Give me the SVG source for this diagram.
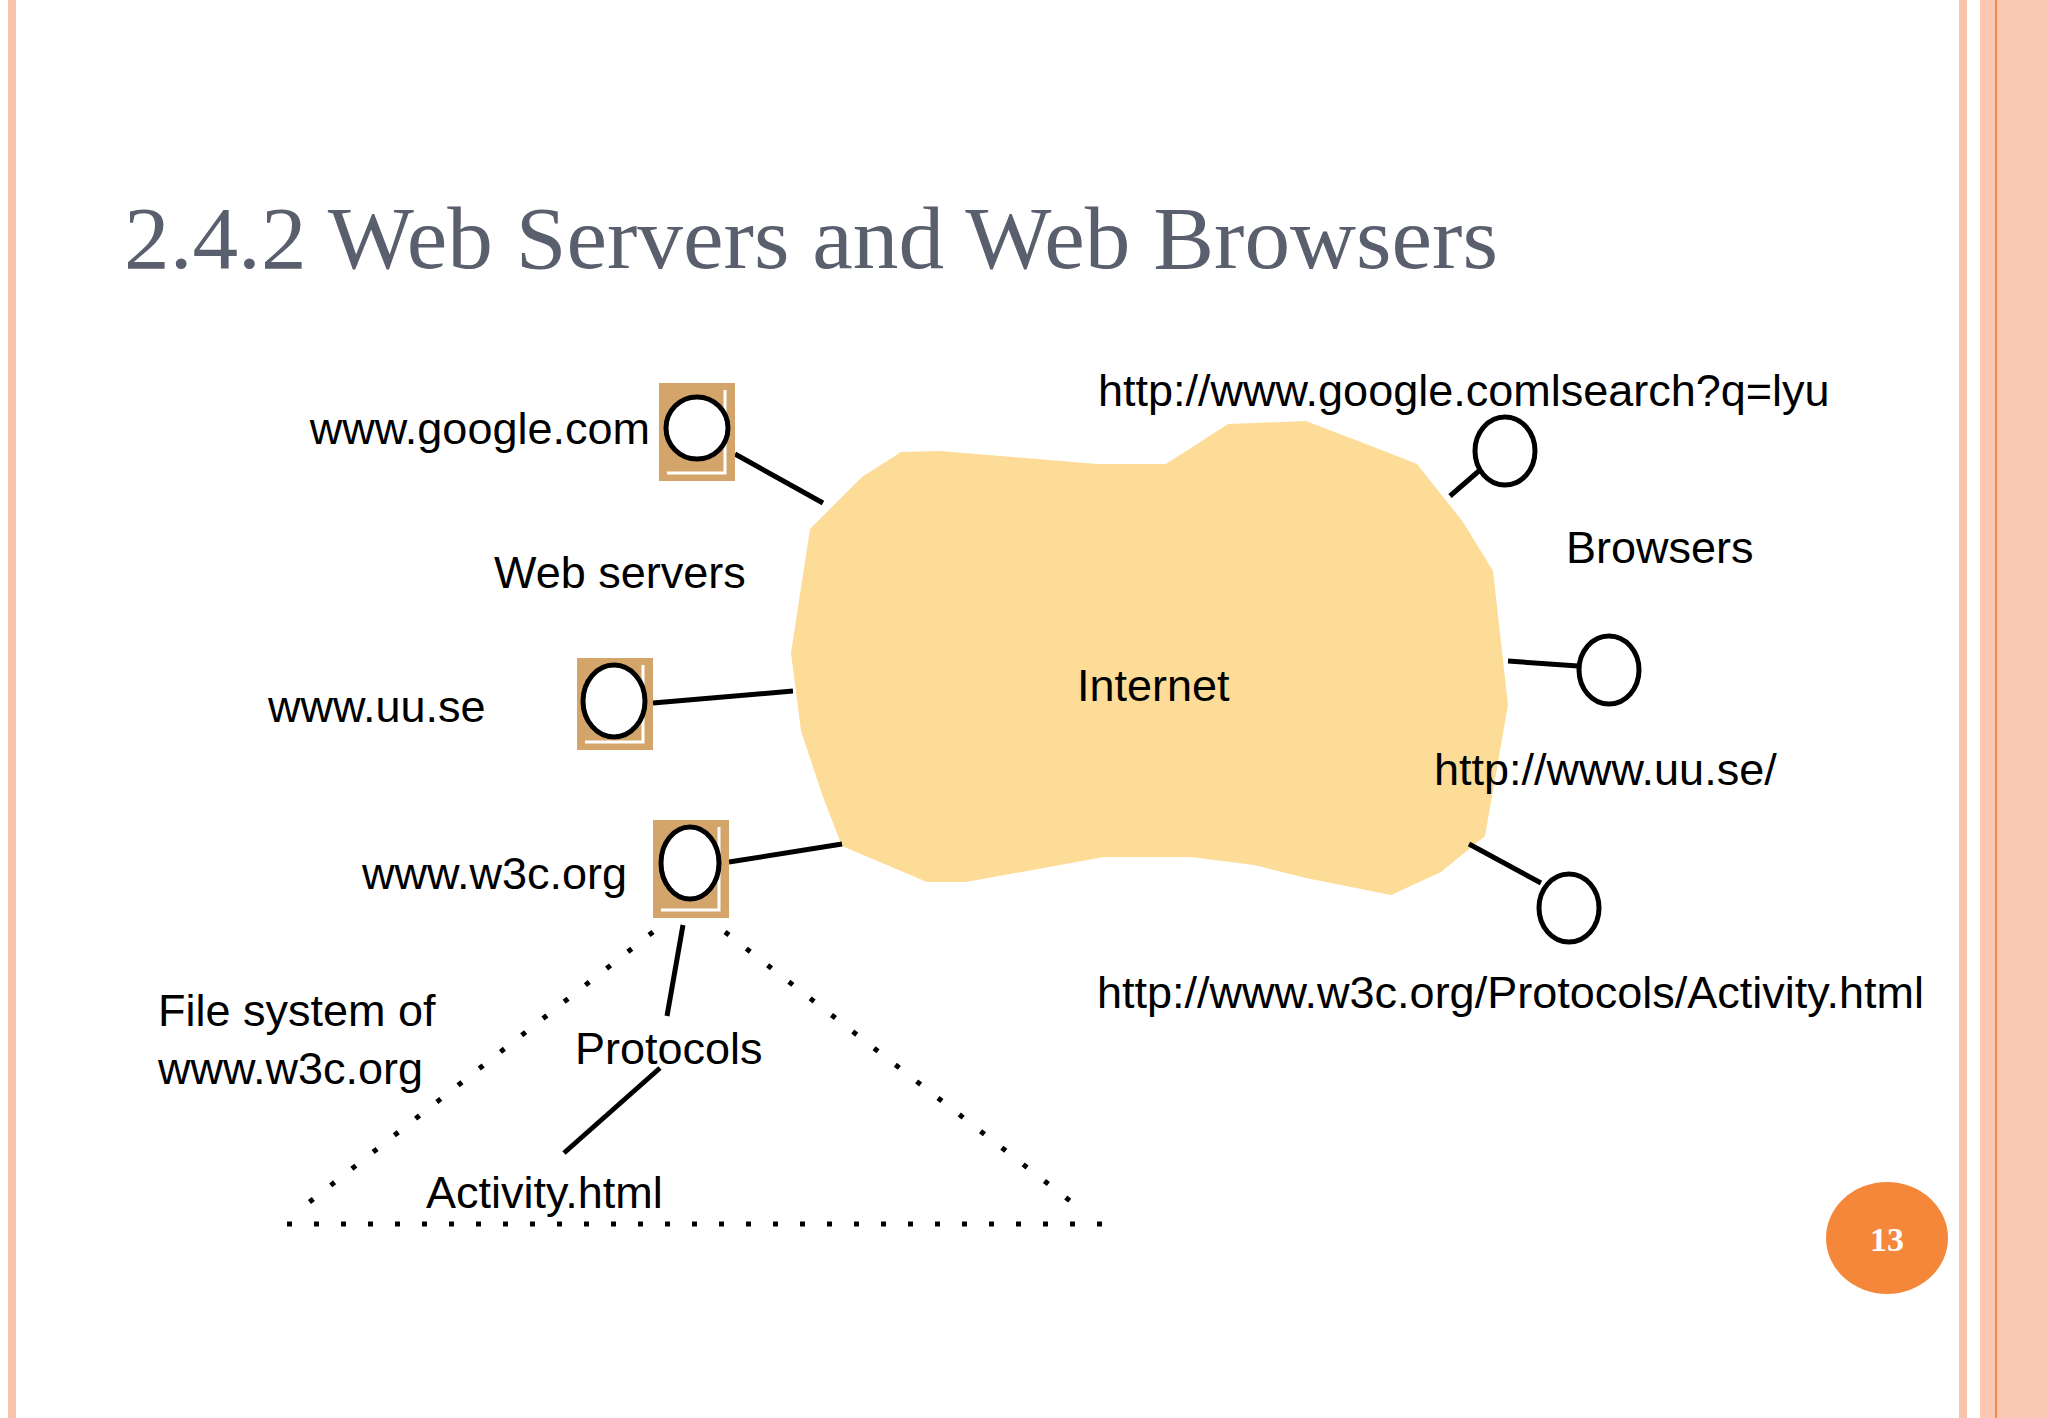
<svg xmlns="http://www.w3.org/2000/svg" width="2048" height="1418" viewBox="0 0 2048 1418">
<style>
.t{font-family:"Liberation Sans",Arial,sans-serif;font-size:45px;fill:#000}
.box{fill:#d4a56a}
.in{stroke:#fff;stroke-width:3;fill:none}
.c{fill:#fff;stroke:#000;stroke-width:5}
.ln{stroke:#000;stroke-width:5;fill:none}
.dot{stroke:#000;stroke-width:5;fill:none;stroke-dasharray:5 22}
</style>
<rect width="2048" height="1418" fill="#fff"/>
<rect x="8" y="0" width="8" height="1418" fill="#f9c4ae"/>
<rect x="1959" y="0" width="8" height="1418" fill="#f9c4ae"/>
<rect x="1980" y="0" width="68" height="1418" fill="#fbc9b3"/>
<rect x="1995" y="0" width="2" height="1418" fill="#f08a4b"/>
<text x="124" y="268" font-family="'Liberation Serif',serif" font-size="88" fill="#5a5f6e" textLength="1374" lengthAdjust="spacingAndGlyphs">2.4.2  Web Servers and Web Browsers</text>
<g id="internet">
<polygon fill="#fcdc96" points="901,452 940,451 1097,464 1166,464 1228,424 1306,421 1384,451 1417,464 1463,522 1493,571 1508,705 1485,836 1441,872 1391,895 1306,878 1254,865 1191,857 1104,857 966,882 927,882 842,846 823,797 801,731 791,653 810,529 862,477"/>
<text class="t" x="1077" y="701">Internet</text>
</g>
<g id="connectors">
<line class="ln" x1="735" y1="454" x2="823" y2="503"/>
<line class="ln" x1="653" y1="703" x2="793" y2="691"/>
<line class="ln" x1="729" y1="862" x2="842" y2="844"/>
<line class="ln" x1="1450" y1="496" x2="1480" y2="470"/>
<line class="ln" x1="1508" y1="661" x2="1578" y2="666"/>
<line class="ln" x1="1469" y1="844" x2="1541" y2="883"/>
<line class="ln" x1="683" y1="925" x2="667" y2="1016"/>
<line class="ln" x1="660" y1="1068" x2="564" y2="1153"/>
<line class="dot" x1="653" y1="932" x2="307" y2="1204"/>
<line class="dot" x1="725" y1="932" x2="1074" y2="1204"/>
<line class="dot" x1="287" y1="1224" x2="1104" y2="1224"/>
</g>
<g id="google">
<rect class="box" x="659" y="383" width="76" height="98"/>
<polyline class="in" points="725,390 725,473 667,473"/>
<ellipse class="c" cx="697" cy="428" rx="31" ry="31"/>
<text class="t" x="650" y="444" text-anchor="end">www.google.com</text>
</g>
<g id="uu">
<rect class="box" x="577" y="658" width="76" height="92"/>
<polyline class="in" points="643,665 643,742 585,742"/>
<ellipse class="c" cx="614" cy="701" rx="31" ry="36"/>
<text class="t" x="268" y="722">www.uu.se</text>
</g>
<g id="w3c">
<rect class="box" x="653" y="820" width="76" height="98"/>
<polyline class="in" points="719,827 719,910 661,910"/>
<ellipse class="c" cx="690" cy="863" rx="29" ry="36"/>
<text class="t" x="627" y="889" text-anchor="end">www.w3c.org</text>
</g>
<text class="t" x="494" y="588">Web servers</text>
<g id="b1"><ellipse class="c" cx="1505" cy="451" rx="30" ry="34"/><text class="t" x="1098" y="406">http://www.google.comlsearch?q=lyu</text></g>
<text class="t" x="1566" y="563">Browsers</text>
<g id="b2"><ellipse class="c" cx="1609" cy="670" rx="30" ry="34"/><text class="t" x="1434" y="785">http://www.uu.se/</text></g>
<g id="b3"><ellipse class="c" cx="1569" cy="908" rx="30" ry="34"/><text class="t" x="1097" y="1008">http://www.w3c.org/Protocols/Activity.html</text></g>
<g id="fs">
<text class="t" x="158" y="1026">File system of</text>
<text class="t" x="158" y="1084">www.w3c.org</text>
<text class="t" x="575" y="1064">Protocols</text>
<text class="t" x="426" y="1208">Activity.html</text>
</g>
<g id="page">
<ellipse cx="1887" cy="1238" rx="61" ry="56" fill="#f5873b"/>
<text x="1887" y="1251" text-anchor="middle" font-family="'Liberation Serif',serif" font-weight="bold" font-size="34" fill="#fff">13</text>
</g>
</svg>
